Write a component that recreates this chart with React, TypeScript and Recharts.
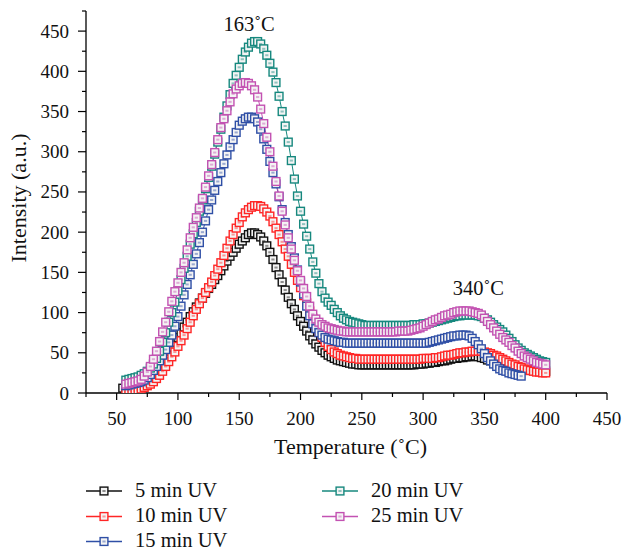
import React from 'react';
import { LineChart, Line, XAxis, YAxis, ReferenceDot } from 'recharts';

// Temperature (°C), one reading every 2.5 °C from 55 to 400
const temps = [
  55, 57.5, 60, 62.5, 65, 67.5, 70, 72.5, 75, 77.5,
  80, 82.5, 85, 87.5, 90, 92.5, 95, 97.5, 100, 102.5,
  105, 107.5, 110, 112.5, 115, 117.5, 120, 122.5, 125, 127.5,
  130, 132.5, 135, 137.5, 140, 142.5, 145, 147.5, 150, 152.5,
  155, 157.5, 160, 162.5, 165, 167.5, 170, 172.5, 175, 177.5,
  180, 182.5, 185, 187.5, 190, 192.5, 195, 197.5, 200, 202.5,
  205, 207.5, 210, 212.5, 215, 217.5, 220, 222.5, 225, 227.5,
  230, 232.5, 235, 237.5, 240, 242.5, 245, 247.5, 250, 252.5,
  255, 257.5, 260, 262.5, 265, 267.5, 270, 272.5, 275, 277.5,
  280, 282.5, 285, 287.5, 290, 292.5, 295, 297.5, 300, 302.5,
  305, 307.5, 310, 312.5, 315, 317.5, 320, 322.5, 325, 327.5,
  330, 332.5, 335, 337.5, 340, 342.5, 345, 347.5, 350, 352.5,
  355, 357.5, 360, 362.5, 365, 367.5, 370, 372.5, 375, 377.5,
  380, 382.5, 385, 387.5, 390, 392.5, 395, 397.5, 400,
];

const uv5 = [
  6, 7, 8, 10, 12, 14, 17, 19, 22, 25,
  29, 33, 37, 42, 47, 52, 57, 63, 69, 75,
  82, 88, 95, 101, 107, 112, 118, 124, 130, 135,
  141, 146, 152, 158, 164, 170, 175, 180, 185, 189,
  193, 197, 199, 199, 197, 194, 189, 183, 175, 166,
  156, 147, 138, 128, 119, 111, 104, 96, 89, 83,
  77, 71, 66, 61, 57, 53, 50, 47, 45, 43,
  41, 40, 39, 38, 37, 36, 36, 35, 35, 35,
  35, 35, 35, 35, 35, 35, 35, 35, 35, 35,
  35, 35, 35, 35, 35, 35, 36, 36, 36, 37,
  37, 38, 38, 39, 40, 40, 41, 42, 43, 43,
  44, 44, 45, 45, 46, 46, 45, 44, 43, 41,
  40, 38, 37, 35, 34, 33, 32, 31, 31, 30,
  30, 29, 29, 28, 28, 28, 27, 27, 27,
];

const uv10 = [
  null, 1, 2, 2, 3, 4, 5, 7, 9, 11,
  14, 18, 22, 27, 33, 39, 45, 51, 58, 65,
  72, 80, 88, 96, 104, 111, 118, 125, 131, 138,
  146, 154, 162, 171, 180, 189, 197, 205, 212, 219,
  224, 228, 231, 233, 233, 232, 229, 225, 220, 213,
  205, 197, 188, 179, 170, 160, 150, 140, 131, 121,
  112, 102, 93, 84, 76, 69, 63, 58, 54, 51,
  49, 47, 46, 45, 44, 43, 43, 42, 42, 42,
  42, 42, 42, 42, 42, 42, 42, 42, 42, 42,
  42, 42, 42, 42, 42, 42, 42, 42, 43, 43,
  43, 43, 44, 44, 45, 46, 47, 47, 48, 49,
  50, 50, 51, 51, 52, 52, 52, 52, 51, 50,
  49, 47, 46, 44, 42, 40, 38, 36, 35, 33,
  32, 30, 29, 28, 27, 26, 26, 25, 25,
];

const uv15 = [
  null, 9, 10, 11, 12, 13, 14, 16, 19, 23,
  28, 33, 40, 47, 54, 63, 72, 83, 95, 108,
  122, 135, 147, 160, 173, 187, 200, 214, 228, 240,
  252, 263, 274, 285, 296, 306, 315, 324, 333, 338,
  341, 343, 343, 341, 337, 328, 316, 303, 288, 274,
  260, 244, 228, 212, 197, 182, 168, 153, 138, 123,
  108, 96, 86, 80, 75, 72, 69, 67, 66, 65,
  64, 63, 63, 62, 62, 62, 62, 62, 62, 62,
  62, 62, 62, 62, 62, 62, 62, 62, 62, 62,
  62, 62, 62, 62, 62, 62, 62, 62, 62, 62,
  63, 64, 65, 66, 67, 68, 69, 70, 71, 71,
  72, 72, 72, 71, 68, 64, 60, 55, 49, 44,
  40, 36, 33, 30, 28, 27, 25, 24, 23, 22,
  21, null, null, null, null, null, null, null, null,
];

const uv20 = [
  null, 16, 17, 18, 19, 20, 22, 24, 27, 31,
  36, 43, 52, 63, 75, 88, 100, 113, 127, 141,
  155, 170, 185, 198, 212, 226, 240, 254, 268, 282,
  297, 312, 328, 343, 357, 371, 385, 395, 405, 415,
  424, 430, 435, 437, 437, 434, 428, 420, 410, 399,
  386, 369, 350, 332, 312, 289, 266, 245, 226, 210,
  195, 179, 163, 149, 136, 126, 118, 113, 109, 104,
  100, 96, 93, 91, 89, 88, 87, 86, 85, 84,
  84, 84, 84, 84, 84, 84, 84, 84, 84, 84,
  84, 84, 84, 84, 84, 85, 85, 85, 86, 86,
  87, 88, 89, 90, 91, 92, 93, 94, 95, 96,
  96, 97, 97, 97, 97, 97, 96, 95, 93, 91,
  88, 85, 82, 79, 76, 72, 68, 64, 60, 56,
  53, 50, 48, 46, 44, 42, 40, 39, 38,
];

const uv25 = [
  null, 11, 12, 13, 14, 15, 17, 21, 26, 33,
  42, 52, 64, 76, 88, 101, 114, 126, 137, 150,
  162, 178, 193, 206, 218, 230, 242, 256, 270, 284,
  299, 315, 330, 341, 351, 362, 372, 378, 382, 385,
  386, 385, 382, 377, 368, 353, 335, 318, 300, 282,
  263, 245, 226, 209, 193, 179, 165, 152, 140, 130,
  120, 108, 98, 92, 88, 85, 83, 81, 80, 79,
  78, 77, 77, 76, 76, 76, 76, 76, 76, 76,
  76, 76, 76, 76, 76, 76, 76, 76, 76, 76,
  77, 77, 77, 77, 78, 79, 80, 81, 83, 85,
  87, 89, 91, 92, 94, 96, 97, 98, 100, 101,
  102, 102, 102, 102, 101, 100, 99, 97, 93, 89,
  85, 81, 77, 73, 69, 66, 63, 59, 56, 52,
  49, 46, 44, 42, 40, 38, 37, 36, 35,
];

const seriesNames = ['5 min UV', '10 min UV', '15 min UV', '20 min UV', '25 min UV'];
const seriesKeys = ['uv5', 'uv10', 'uv15', 'uv20', 'uv25'];
const seriesValues = [uv5, uv10, uv15, uv20, uv25];
const colors = ['#111111', '#ff2626', '#2f4fa6', '#16887e', '#c352b2'];

const xTicks = [25, 50, 75, 100, 125, 150, 175, 200, 225, 250, 275, 300, 325, 350, 375, 400, 425, 450];
const yTicks = [0, 25, 50, 75, 100, 125, 150, 175, 200, 225, 250, 275, 300, 325, 350, 375, 400, 425, 450, 475];

const peakNotes = [
  { T: 158, I: 459, text: '163˚C' },
  { T: 345, I: 130, text: '340˚C' },
];

const data = temps.map((T, i) => {
  const row: any = { T };
  seriesKeys.forEach((k, s) => {
    row[k] = seriesValues[s][i];
  });
  return row;
});

const FONT = '"Liberation Serif", "Times New Roman", serif';

const XTick = (props: any) => {
  const { x, y, payload } = props;
  const major = payload.value % 50 === 0;
  return (
    <g>
      <line x1={x} x2={x} y1={y} y2={y + (major ? 7 : 4)} stroke="#000" strokeWidth={1.2} />
      {major && (
        <text x={x} y={y + 32} textAnchor="middle" fontSize={19} fontFamily={FONT} fill="#111">
          {payload.value}
        </text>
      )}
    </g>
  );
};

const YTick = (props: any) => {
  const { x, y, payload } = props;
  const major = payload.value % 50 === 0;
  return (
    <g>
      <line x1={x} x2={x - (major ? 8 : 4)} y1={y} y2={y} stroke="#000" strokeWidth={1.2} />
      {major && (
        <text x={x - 17} y={y + 6.5} textAnchor="end" fontSize={19} fontFamily={FONT} fill="#111">
          {payload.value}
        </text>
      )}
    </g>
  );
};

const Marker = ({ cx, cy, color, k }: any) => {
  if (cx == null || cy == null || isNaN(cx) || isNaN(cy)) return <g key={k} />;
  return (
    <g key={k}>
      <rect x={cx - 3.9} y={cy - 3.9} width={7.8} height={7.8} fill="#f4f4f4" stroke={color} strokeWidth={1.4} />
      <rect x={cx - 1.6} y={cy - 1} width={3.2} height={2} fill={color} fillOpacity={0.45} />
    </g>
  );
};

const makeDot = (color: string, name: string) => (props: any) => (
  <Marker key={`${name}-${props.index}`} k={`${name}-${props.index}`} cx={props.cx} cy={props.cy} color={color} />
);

const XTitle = (props: any) => {
  const vb = props.viewBox || { x: 86, y: 393, width: 521 };
  return (
    <text x={vb.x + vb.width / 2 + 4} y={vb.y + 61} textAnchor="middle" fontSize={22} fontFamily={FONT} fill="#111">
      Temperature (˚C)
    </text>
  );
};

const YTitle = (props: any) => {
  const vb = props.viewBox || { x: 0, y: 11, width: 86, height: 382 };
  const cx = vb.x + 18;
  const cy = vb.y + vb.height / 2 - 4;
  return (
    <text x={cx} y={cy} transform={`rotate(-90, ${cx}, ${cy})`} textAnchor="middle" dominantBaseline="central" fontSize={22} fontFamily={FONT} fill="#111">
      Intensity (a.u.)
    </text>
  );
};

const NoteLabel = (text: string) => (props: any) => {
  const vb = props.viewBox || {};
  const cx = vb.cx ?? (vb.x + (vb.width || 0) / 2);
  const cy = vb.cy ?? (vb.y + (vb.height || 0) / 2);
  return (
    <text x={cx} y={cy + 7} textAnchor="middle" fontSize={20.5} fontFamily={FONT} fill="#111">
      {text}
    </text>
  );
};

const legendPos = [
  { x: 86, y: 491 },
  { x: 86, y: 516.5 },
  { x: 86, y: 541.5 },
  { x: 322, y: 491 },
  { x: 322, y: 516.5 },
];

const Legend = () => (
  <svg width={623} height={552} style={{ position: 'absolute', left: 0, top: 0, pointerEvents: 'none' }}>
    {seriesNames.map((name, i) => {
      const p = legendPos[i];
      return (
        <g key={name}>
          <line x1={p.x} x2={p.x + 36} y1={p.y} y2={p.y} stroke={colors[i]} strokeWidth={1.3} />
          <Marker cx={p.x + 18} cy={p.y} color={colors[i]} k={`lg-${i}`} />
          <text x={p.x + 49} y={p.y + 5.5} fontSize={20.5} fontFamily={FONT} fill="#111">
            {name}
          </text>
        </g>
      );
    })}
  </svg>
);

export default function App() {
  return (
    <div style={{ position: 'absolute', left: 0, top: 0, width: 623, height: 552, background: '#fff', overflow: 'hidden' }}>
      <LineChart width={623} height={552} data={data} margin={{ top: 11, right: 16, bottom: 0, left: 0 }}>
        <XAxis
          dataKey="T"
          type="number"
          domain={[25, 450]}
          ticks={xTicks}
          interval={0}
          height={159}
          tickSize={0}
          tickMargin={0}
          tickLine={false}
          axisLine={{ stroke: '#000', strokeWidth: 1.3 }}
          tick={<XTick />}
          allowDataOverflow
          label={<XTitle />}
        />
        <YAxis
          type="number"
          domain={[0, 475]}
          ticks={yTicks}
          interval={0}
          width={86}
          tickSize={0}
          tickMargin={0}
          tickLine={false}
          axisLine={{ stroke: '#000', strokeWidth: 1.3 }}
          tick={<YTick />}
          allowDataOverflow
          label={<YTitle />}
        />
        {seriesKeys.map((k, i) => (
          <Line
            key={k}
            dataKey={k}
            name={seriesNames[i]}
            stroke={colors[i]}
            strokeWidth={1}
            dot={makeDot(colors[i], k)}
            activeDot={false}
            isAnimationActive={false}
            connectNulls={false}
          />
        ))}
        {peakNotes.map((n) => (
          <ReferenceDot
            key={n.text}
            x={n.T}
            y={n.I}
            r={0}
            fill="none"
            stroke="none"
            ifOverflow="visible"
            label={NoteLabel(n.text)}
          />
        ))}
      </LineChart>
      <Legend />
    </div>
  );
}
